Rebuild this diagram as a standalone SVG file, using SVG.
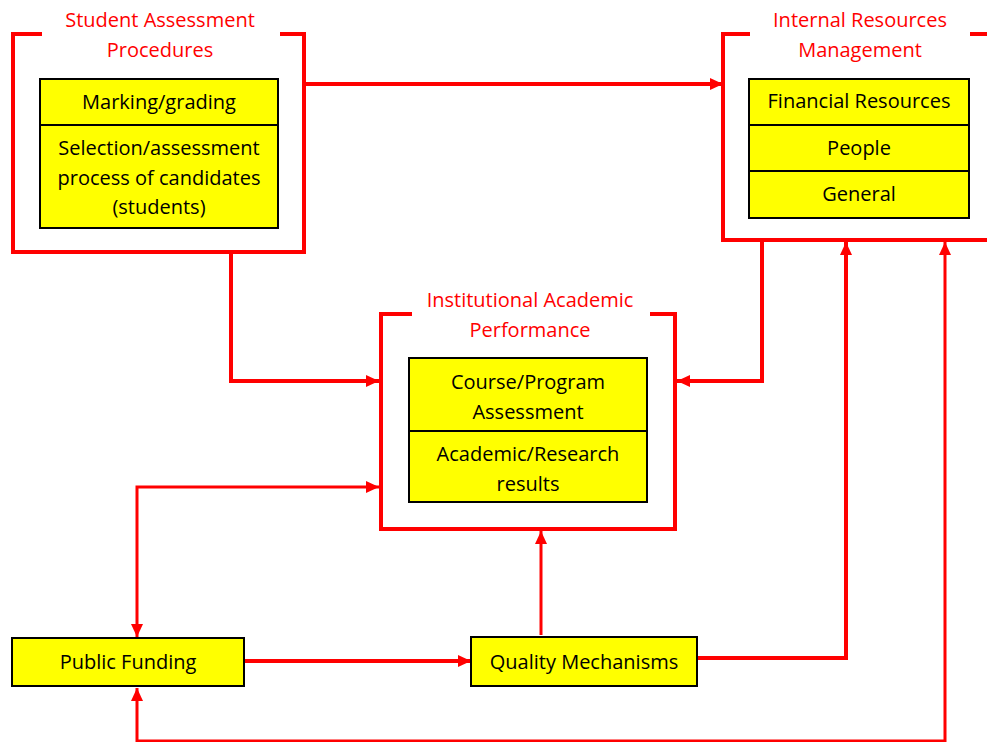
<svg xmlns="http://www.w3.org/2000/svg" width="987" height="742" viewBox="0 0 987 742">
<style>
.frame{fill:none;stroke:#ff0000;stroke-width:4}
.cell{fill:#ffff00;stroke:#000;stroke-width:2}
.lbl{font-family:"Open Sans","Liberation Sans",sans-serif;font-size:20px;fill:#ff0000;text-anchor:middle}
.txt{font-family:"Open Sans","Liberation Sans",sans-serif;font-size:20px;fill:#000;text-anchor:middle}
.c{fill:none;stroke:#ff0000;stroke-width:4}
.c3{fill:none;stroke:#ff0000;stroke-width:3}
</style>
<defs>
<marker id="ah" markerUnits="userSpaceOnUse" markerWidth="14" markerHeight="12" refX="13" refY="6" orient="auto-start-reverse">
<path d="M0,0 L13,6 L0,12 Z" fill="#ff0000"/>
</marker>
</defs>
<rect width="987" height="742" fill="#fff"/>
<g id="connectors">
<path class="c" d="M305,84 H723" marker-end="url(#ah)"/>
<path class="c" d="M231,253 V381 H379" marker-end="url(#ah)"/>
<path class="c" d="M762,240 V381 H677" marker-end="url(#ah)"/>
<path class="c3" d="M137,637 V487 H379" marker-start="url(#ah)" marker-end="url(#ah)"/>
<path class="c" d="M245,661 H471" marker-end="url(#ah)"/>
<path class="c3" d="M541,635 V531" marker-end="url(#ah)"/>
<path class="c" d="M697,658 H846 V242" marker-end="url(#ah)"/>
<path class="c3" d="M137,688 V741 H945 V242" marker-start="url(#ah)" marker-end="url(#ah)"/>
</g>
<g id="student-assessment">
<path class="frame" d="M42,34 H13 V252 H304 V34 H280"/>
<text class="lbl" x="160" y="27">Student Assessment</text>
<text class="lbl" x="160" y="57">Procedures</text>
<rect class="cell" x="40" y="79" width="238" height="46"/>
<rect class="cell" x="40" y="125" width="238" height="103"/>
<text class="txt" x="159" y="109">Marking/grading</text>
<text class="txt" x="159" y="155">Selection/assessment</text>
<text class="txt" x="159" y="185">process of candidates</text>
<text class="txt" x="159" y="214">(students)</text>
</g>
<g id="internal-resources">
<path class="frame" d="M750,34 H723 V240 H990 M970,34 H990"/>
<text class="lbl" x="860" y="27">Internal Resources</text>
<text class="lbl" x="860" y="57">Management</text>
<rect class="cell" x="749" y="79" width="220" height="46"/>
<rect class="cell" x="749" y="125" width="220" height="46"/>
<rect class="cell" x="749" y="171" width="220" height="47"/>
<text class="txt" x="859" y="108">Financial Resources</text>
<text class="txt" x="859" y="155">People</text>
<text class="txt" x="859" y="201">General</text>
</g>
<g id="institutional-performance">
<path class="frame" d="M412,314 H381 V529 H675 V314 H650"/>
<text class="lbl" x="530" y="307">Institutional Academic</text>
<text class="lbl" x="530" y="337">Performance</text>
<rect class="cell" x="409" y="358" width="238" height="73"/>
<rect class="cell" x="409" y="431" width="238" height="71"/>
<text class="txt" x="528" y="389">Course/Program</text>
<text class="txt" x="528" y="419">Assessment</text>
<text class="txt" x="528" y="461">Academic/Research</text>
<text class="txt" x="528" y="491">results</text>
</g>
<g id="public-funding">
<rect class="cell" x="12" y="638" width="232" height="48"/>
<text class="txt" x="128" y="669">Public Funding</text>
</g>
<g id="quality-mechanisms">
<rect class="cell" x="471" y="637" width="226" height="49"/>
<text class="txt" x="584" y="669">Quality Mechanisms</text>
</g>
</svg>
